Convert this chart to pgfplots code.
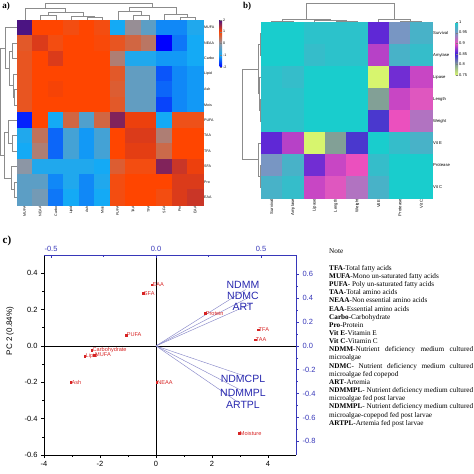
\documentclass[border=0pt]{standalone}
\usepackage{fontspec}
\setmainfont{Liberation Sans}
\newfontfamily\notefont{Liberation Serif}
\usepackage{pgfplots}
\usepackage{pgfplotstable}
\pgfplotsset{compat=1.18}
\pgfplotsset{/pgf/number format/assume math mode=true}

\definecolor{cred}{RGB}{215,35,35}
\definecolor{cblue}{RGB}{55,55,185}
\definecolor{vtext}{RGB}{40,40,175}
\definecolor{vecc}{RGB}{135,135,200}
\definecolor{dendro}{RGB}{140,140,140}

\pgfplotsset{
 colormap={heatA}{rgb255(0cm)=(0,0,255); rgb255(1cm)=(20,170,245); rgb255(2cm)=(140,150,165); rgb255(3cm)=(255,69,0); rgb255(4cm)=(75,20,130)},
 colormap={heatB}{rgb255(0cm)=(215,245,110); rgb255(1cm)=(130,160,150); rgb255(2cm)=(60,30,220); rgb255(3cm)=(235,80,190); rgb255(4cm)=(120,150,195); rgb255(5cm)=(25,205,205)},
 heat/.style={anchor=south west, scale only axis, y dir=reverse, enlargelimits=false, clip=false,
   axis line style={draw=none}, major tick length=0pt, yticklabel pos=right,
   xticklabel style={rotate=90, anchor=east}},
}

\pgfplotstableread[row sep=\\]{
a b\\
4 -0.5\\ 4 -0.65\\ 5 -0.65\\ 5 -0.5\\ nan nan\\
3 -0.5\\ 3 -0.75\\ 4.5 -0.75\\ 4.5 -0.65\\ nan nan\\
1 -0.5\\ 1 -0.8\\ 2 -0.8\\ 2 -0.5\\ nan nan\\
1.5 -0.8\\ 1.5 -1.0\\ 3.75 -1.0\\ 3.75 -0.75\\ nan nan\\
0 -0.5\\ 0 -1.25\\ 2.625 -1.25\\ 2.625 -1.0\\ nan nan\\
7 -0.5\\ 7 -0.8\\ 8 -0.8\\ 8 -0.5\\ nan nan\\
6 -0.5\\ 6 -1.05\\ 7.5 -1.05\\ 7.5 -0.8\\ nan nan\\
10 -0.5\\ 10 -0.7\\ 11 -0.7\\ 11 -0.5\\ nan nan\\
9 -0.5\\ 9 -0.9\\ 10.5 -0.9\\ 10.5 -0.7\\ nan nan\\
6.75 -1.05\\ 6.75 -1.3\\ 9.75 -1.3\\ 9.75 -0.9\\ nan nan\\
1.3125 -1.25\\ 1.3125 -1.6\\ 8.25 -1.6\\ 8.25 -1.3\\
}\dendA

\pgfplotstableread[row sep=\\]{
a b\\
0 -0.5\\ 0 -0.55\\ 1 -0.55\\ 1 -0.5\\ nan nan\\
3 -0.5\\ 3 -0.54\\ 4 -0.54\\ 4 -0.5\\ nan nan\\
2 -0.5\\ 2 -0.57\\ 3.5 -0.57\\ 3.5 -0.54\\ nan nan\\
0.5 -0.55\\ 0.5 -0.62\\ 2.75 -0.62\\ 2.75 -0.57\\ nan nan\\
6 -0.5\\ 6 -0.55\\ 7 -0.55\\ 7 -0.5\\ nan nan\\
5 -0.5\\ 5 -0.62\\ 6.5 -0.62\\ 6.5 -0.55\\ nan nan\\
1.625 -0.62\\ 1.625 -1.36\\ 5.75 -1.36\\ 5.75 -0.62\\
}\dendB

\begin{document}
\begin{tikzpicture}
\useasboundingbox (0,0) rectangle (474pt,474pt);

% ---------------- panel a ----------------
\begin{axis}[heat, at={(17pt,269pt)}, width=186pt, height=185pt,
  xmin=-0.5, xmax=11.5, ymin=-0.5, ymax=11.5,
  xtick={0,...,11}, ytick={0,...,11},
  xticklabels={MUFA,NEAA,Carbo,Lipid,Ash,Mois,PUFA,TAA,TFA,SFA,Pro,EAA},
  yticklabels={MUFA,NEAA,Carbo,Lipid,Ash,Mois,PUFA,TAA,TFA,SFA,Pro,EAA},
  ticklabel style={font=\fontsize{3.6}{4}\selectfont, inner sep=1pt},
  colormap name=heatA, point meta min=-2, point meta max=2,
  colorbar,
  colorbar style={at={(parent axis.north east)}, anchor=north west, xshift=8pt,
    scale only axis, width=2.5pt, height=47pt, ytick={-2,-1,0,1,2},
    yticklabel style={font=\fontsize{3.6}{4}\selectfont, inner sep=1pt},
    major tick length=0.8pt, axis line style={draw=none}},
]
\addplot[matrix plot*, mesh/cols=12, point meta=explicit] table[x=x, y=y, meta=c, row sep=\\] {
x y c\\
0 0 2\\ 1 0 1\\ 2 0 1\\ 3 0 0.9\\ 4 0 1\\ 5 0 0.9\\ 6 0 -1\\ 7 0 0.1\\ 8 0 -0.4\\ 9 0 -1.2\\ 10 0 -1.2\\ 11 0 -0.9\\
0 1 0.75\\ 1 1 1.2\\ 2 1 0.9\\ 3 1 1\\ 4 1 1\\ 5 1 0.95\\ 6 1 0.8\\ 7 1 0.6\\ 8 1 0.4\\ 9 1 -2\\ 10 1 -1.3\\ 11 1 -1\\
0 2 0.8\\ 1 2 1\\ 2 2 1.2\\ 3 2 1\\ 4 2 1\\ 5 2 1\\ 6 2 0.3\\ 7 2 -0.9\\ 8 2 -0.9\\ 9 2 -1.1\\ 10 2 -1.1\\ 11 2 -1\\
0 3 0.8\\ 1 3 1\\ 2 3 1\\ 3 3 1\\ 4 3 1\\ 5 3 1\\ 6 3 0.75\\ 7 3 -0.35\\ 8 3 -0.35\\ 9 3 -1.5\\ 10 3 -1.2\\ 11 3 -1.1\\
0 4 0.8\\ 1 4 1\\ 2 4 1.05\\ 3 4 1\\ 4 4 1\\ 5 4 1\\ 6 4 0.7\\ 7 4 -0.35\\ 8 4 -0.35\\ 9 4 -1.4\\ 10 4 -1.2\\ 11 4 -1.1\\
0 5 0.8\\ 1 5 1\\ 2 5 1\\ 3 5 1\\ 4 5 1\\ 5 5 1\\ 6 5 0.75\\ 7 5 -0.35\\ 8 5 -0.35\\ 9 5 -1.6\\ 10 5 -1.2\\ 11 5 -1.1\\
0 6 -1.8\\ 1 6 1\\ 2 6 -1\\ 3 6 0.6\\ 4 6 -0.5\\ 5 6 0.6\\ 6 6 1.7\\ 7 6 1.1\\ 8 6 1.1\\ 9 6 -1\\ 10 6 0.85\\ 11 6 0.85\\
0 7 -0.9\\ 1 7 0.45\\ 2 7 -1.4\\ 3 7 -0.6\\ 4 7 -1.1\\ 5 7 -0.6\\ 6 7 1\\ 7 7 1.2\\ 8 7 1.2\\ 9 7 0.3\\ 10 7 1\\ 11 7 1\\
0 8 -1\\ 1 8 0.3\\ 2 8 -1.4\\ 3 8 -0.6\\ 4 8 -1.1\\ 5 8 -0.6\\ 6 8 1\\ 7 8 1.15\\ 8 8 1.15\\ 9 8 0.55\\ 10 8 1\\ 11 8 1\\
0 9 0\\ 1 9 -0.9\\ 2 9 -0.9\\ 3 9 -0.9\\ 4 9 -0.9\\ 5 9 -1\\ 6 9 0.7\\ 7 9 0.9\\ 8 9 0.9\\ 9 9 1.7\\ 10 9 1.3\\ 11 9 1.1\\
0 10 -0.4\\ 1 10 -0.4\\ 2 10 -1.2\\ 3 10 -0.9\\ 4 10 -1.2\\ 5 10 -0.9\\ 6 10 0.9\\ 7 10 1\\ 8 10 1\\ 9 10 1\\ 10 10 1.2\\ 11 10 1.2\\
0 11 -0.4\\ 1 11 -0.2\\ 2 11 -1.3\\ 3 11 -1\\ 4 11 -1.2\\ 5 11 -1\\ 6 11 0.9\\ 7 11 1\\ 8 11 1\\ 9 11 0.9\\ 10 11 1.2\\ 11 11 1.3\\
};
\addplot[dendro, line width=0.45pt, unbounded coords=jump] table[x=a, y=b] {\dendA};
\addplot[dendro, line width=0.45pt, unbounded coords=jump] table[x=b, y=a] {\dendA};
\end{axis}

% ---------------- panel b ----------------
\begin{axis}[heat, at={(261pt,276pt)}, width=171pt, height=176pt,
  xmin=-0.5, xmax=7.5, ymin=-0.5, ymax=7.5,
  xtick={0,...,7}, ytick={0,...,7},
  xticklabels={Survival,Amylase,Lipase,Length,Weight,Vit E,Protease,Vit C},
  yticklabels={Survival,Amylase,Lipase,Length,Weight,Vit E,Protease,Vit C},
  ticklabel style={font=\fontsize{4.2}{5}\selectfont, inner sep=1pt},
  colormap name=heatB, point meta min=0.75, point meta max=1,
  colorbar,
  colorbar style={at={(parent axis.north east)}, anchor=north west, xshift=15pt,
    scale only axis, width=2.5pt, height=53pt, ytick={0.75,0.8,0.85,0.9,0.95,1},
    yticklabel style={font=\fontsize{4}{5}\selectfont, inner sep=1pt},
    major tick length=0.8pt, axis line style={draw=none}},
]
\addplot[matrix plot*, mesh/cols=8, point meta=explicit] table[x=x, y=y, meta=c, row sep=\\] {
x y c\\
0 0 1\\ 1 0 1\\ 2 0 0.99\\ 3 0 0.99\\ 4 0 0.99\\ 5 0 0.86\\ 6 0 0.95\\ 7 0 0.975\\
0 1 1\\ 1 1 1\\ 2 1 0.985\\ 3 1 0.99\\ 4 1 0.99\\ 5 1 0.885\\ 6 1 0.975\\ 7 1 0.985\\
0 2 0.99\\ 1 2 0.985\\ 2 2 1\\ 3 2 1\\ 4 2 1\\ 5 2 0.75\\ 6 2 0.865\\ 7 2 0.89\\
0 3 0.99\\ 1 3 0.99\\ 2 3 1\\ 3 3 1\\ 4 3 1\\ 5 3 0.8\\ 6 3 0.89\\ 7 3 0.905\\
0 4 0.99\\ 1 4 0.99\\ 2 4 1\\ 3 4 1\\ 4 4 1\\ 5 4 0.84\\ 6 4 0.9\\ 7 4 0.925\\
0 5 0.86\\ 1 5 0.885\\ 2 5 0.75\\ 3 5 0.8\\ 4 5 0.84\\ 5 5 1\\ 6 5 0.985\\ 7 5 0.975\\
0 6 0.95\\ 1 6 0.975\\ 2 6 0.865\\ 3 6 0.89\\ 4 6 0.9\\ 5 6 0.985\\ 6 6 1\\ 7 6 1\\
0 7 0.975\\ 1 7 0.985\\ 2 7 0.89\\ 3 7 0.905\\ 4 7 0.925\\ 5 7 0.975\\ 6 7 1\\ 7 7 1\\
};
\addplot[dendro, line width=0.45pt, unbounded coords=jump] table[x=a, y=b] {\dendB};
\addplot[dendro, line width=0.45pt, unbounded coords=jump] table[x=b, y=a] {\dendB};
\end{axis}

\node[font=\notefont\fontsize{9}{10}\selectfont\bfseries] at (6pt,468pt) {a)};
\node[font=\notefont\fontsize{9}{10}\selectfont\bfseries] at (247pt,468pt) {b)};

% ---------------- panel c ----------------
\begin{axis}[at={(44pt,19pt)}, anchor=south west, scale only axis, width=252pt, height=200pt,
  xmin=-4, xmax=5, ymin=-0.6, ymax=0.5,
  axis x line*=bottom, axis y line*=left,
  axis line style={line width=0.6pt},
  xtick={-4,-2,0,2,4}, ytick={-0.6,-0.4,-0.2,0,0.2,0.4},
  minor x tick num=1, minor y tick num=1, tick align=outside,
  major tick length=3pt, minor tick length=1.6pt,
  every tick/.style={black, line width=0.5pt},
  ticklabel style={font=\fontsize{7.5}{9}\selectfont},
  yticklabel style={/pgf/number format/.cd, fixed, fixed zerofill, precision=1},
  ylabel={PC 2 (0.84\%)},
  ylabel style={at={(axis description cs:-0.135,0.62)}, anchor=center, font=\fontsize{8}{9}\selectfont},
  clip=false,
]
\addplot[black, line width=0.7pt] coordinates {(-4,0) (5,0)};
\addplot[black, line width=0.7pt] coordinates {(0,-0.6) (0,0.5)};
\addplot[vecc, line width=0.45pt] coordinates {(0,0) (3.2,0.31)};
\addplot[vecc, line width=0.45pt] coordinates {(0,0) (3.35,0.27)};
\addplot[vecc, line width=0.45pt] coordinates {(0,0) (3.45,0.235)};
\addplot[vecc, line width=0.45pt] coordinates {(0,0) (3.25,-0.17)};
\addplot[vecc, line width=0.45pt] coordinates {(0,0) (3.05,-0.245)};
\addplot[vecc, line width=0.45pt] coordinates {(0,0) (2.93,-0.31)};
\addplot[only marks, mark=square*, mark size=0.8pt, cred,
  nodes near coords, point meta=explicit symbolic,
  every node near coord/.style={anchor=west, font=\fontsize{5.6}{6}\selectfont, text=cred, inner sep=0.6pt}]
  table[meta=label, row sep=\\] {
x y label\\
-0.15 0.337 EAA\\
-0.46 0.29 SFA\\
1.75 0.18 Protein\\
-1.07 0.06 PUFA\\
3.64 0.09 TFA\\
3.54 0.035 TAA\\
-2.29 -0.025 Carbohydrate\\
-2.54 -0.055 Lipid\\
-2.2 -0.05 MUFA\\
-3.04 -0.2 Ash\\
0.02 -0.2 NEAA\\
2.97 -0.48 Moisture\\
};
\node[text=vtext, font=\fontsize{10.5}{11}\selectfont, inner sep=0pt] at (axis cs:3.107,0.333) {NDMM};
\node[text=vtext, font=\fontsize{10.5}{11}\selectfont, inner sep=0pt] at (axis cs:3.107,0.273) {NDMC};
\node[text=vtext, font=\fontsize{10.5}{11}\selectfont, inner sep=0pt] at (axis cs:3.107,0.216) {ART};
\node[text=vtext, font=\fontsize{10.5}{11}\selectfont, inner sep=0pt] at (axis cs:3.107,-0.183) {NDMCPL};
\node[text=vtext, font=\fontsize{10.5}{11}\selectfont, inner sep=0pt] at (axis cs:3.107,-0.258) {NDMMPL};
\node[text=vtext, font=\fontsize{10.5}{11}\selectfont, inner sep=0pt] at (axis cs:3.107,-0.325) {ARTPL};
\end{axis}

\begin{axis}[at={(44pt,19pt)}, anchor=south west, scale only axis, width=252pt, height=200pt,
  xmin=-0.5333, xmax=0.6667, ymin=-0.915, ymax=0.7625,
  axis x line*=top, axis y line*=right,
  axis line style={cblue, line width=0.6pt},
  xtick={-0.5,0,0.5}, ytick={-0.8,-0.6,-0.4,-0.2,0,0.2,0.4,0.6},
  minor x tick num=1, minor y tick num=1,
  xtick align=inside, ytick align=outside,
  major tick length=3pt, minor tick length=1.6pt,
  every tick/.style={cblue, line width=0.5pt},
  ticklabel style={font=\fontsize{7.5}{9}\selectfont, text=cblue},
  xticklabel style={/pgf/number format/.cd, fixed, fixed zerofill, precision=1},
  yticklabel style={/pgf/number format/.cd, fixed, fixed zerofill, precision=1},
]
\addplot[draw=none] coordinates {(0,0)};
\end{axis}

\node[font=\notefont\fontsize{11}{12}\selectfont\bfseries] at (7pt,233.5pt) {c)};

\node[anchor=north west, inner sep=0pt, align=left, font=\notefont\fontsize{7.2}{8.16}\selectfont] at (329pt,225pt) {Note\\[8.16pt]
\textbf{TFA}-Total fatty acids\\
\textbf{MUFA}-Mono un-saturated fatty acids\\
\textbf{PUFA}- Poly un-saturated fatty acids\\
\textbf{TAA}-Total amino acids\\
\textbf{NEAA}-Non essential amino acids\\
\textbf{EAA}-Essential amino acids\\
\textbf{Carbo}-Carbohydrate\\
\textbf{Pro}-Protein\\
\textbf{Vit E}-Vitamin E\\
\textbf{Vit C}-Vitamin C\\
\makebox[144pt][s]{\textbf{NDMM}-Nutrient deficiency medium cultured}\\
microalgae\\
\makebox[144pt][s]{\textbf{NDMC}- Nutrient deficiency medium cultured}\\
microalgae fed copepod\\
\textbf{ART}-Artemia\\
\makebox[144pt][s]{\textbf{NDMMPL}- Nutrient deficiency medium cultured}\\
microalgae fed post larvae\\
\makebox[144pt][s]{\textbf{NDMMPL}- Nutrient deficiency medium cultured}\\
microalgae-copepod fed post larvae\\
\textbf{ARTPL}-Artemia fed post larvae};
\end{tikzpicture}
\end{document}
